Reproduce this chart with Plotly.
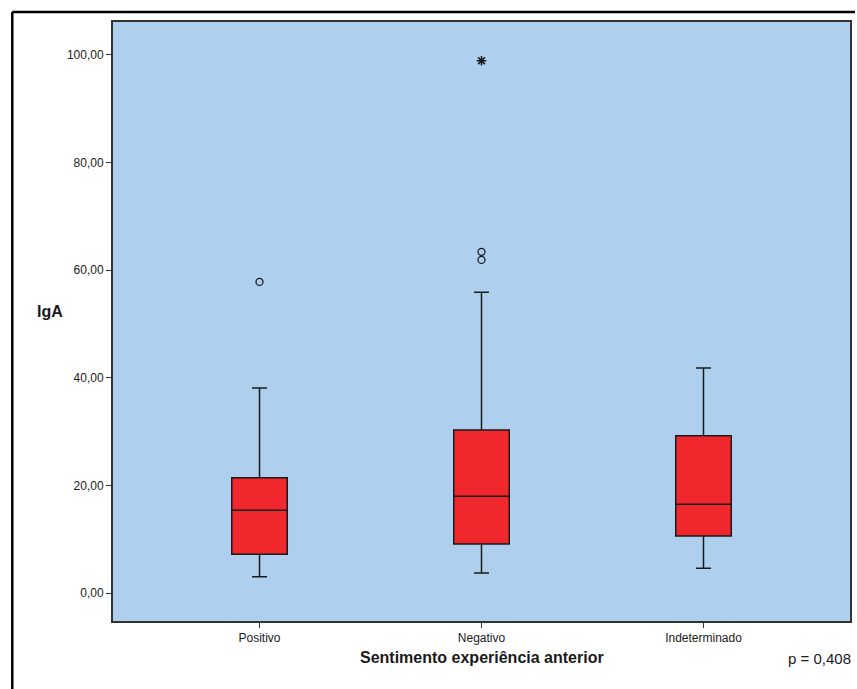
import plotly.graph_objects as go

categories = ["Positivo", "Negativo", "Indeterminado"]
q1 = [7.2, 9.1, 10.6]
median = [15.4, 18.0, 16.5]
q3 = [21.4, 30.3, 29.2]
lower_whisker = [3.0, 3.7, 4.6]
upper_whisker = [38.1, 55.9, 41.8]

outlier_cats = ["Positivo", "Negativo", "Negativo"]
outlier_vals = [57.8, 63.4, 61.9]
extreme_cats = ["Negativo"]
extreme_vals = [98.9]

y_tickvals = [0, 20, 40, 60, 80, 100]
y_ticktext = ["0,00", "20,00", "40,00", "60,00", "80,00", "100,00"]

W, H = 857, 689
L, R, T, B = 113, 852, 22, 621

fig = go.Figure()
fig.add_trace(go.Box(
    x=categories, q1=q1, median=median, q3=q3,
    lowerfence=lower_whisker, upperfence=upper_whisker,
    fillcolor="#F0282D", line=dict(color="#1a1a1a", width=1.5),
    width=0.25, whiskerwidth=0.27, boxpoints=False, showlegend=False,
))
fig.add_trace(go.Scatter(
    x=outlier_cats, y=outlier_vals, mode="markers",
    marker=dict(symbol="circle-open", size=7, color="#1a1a1a", line=dict(width=1.3)),
    showlegend=False,
))
fig.add_trace(go.Scatter(
    x=extreme_cats, y=extreme_vals, mode="markers",
    marker=dict(symbol="asterisk-open", size=8, color="#1a1a1a", line=dict(width=1.5, color="#1a1a1a")),
    showlegend=False,
))

def px(x):
    return (x - L) / (R - L)

def py(y):
    return (B - y) / (B - T)

font_name = "Liberation Sans Narrow, Liberation Sans, Arial, sans-serif"

fig.update_layout(
    width=W, height=H,
    margin=dict(l=L, r=W - R, t=T, b=H - B),
    paper_bgcolor="white",
    plot_bgcolor="#AED0EE",
    showlegend=False,
    font=dict(family=font_name, color="#1a1a1a"),
    xaxis=dict(
        type="category", categoryorder="array", categoryarray=categories,
        range=[-0.66, 2.66], showgrid=False, zeroline=False,
        showline=True, linecolor="#333333", linewidth=2, mirror=True,
        ticks="outside", ticklen=5, tickcolor="#333333",
        tickfont=dict(size=12, family=font_name),
    ),
    yaxis=dict(
        range=[-5.2, 106.1], showgrid=False, zeroline=False,
        showline=True, linecolor="#333333", linewidth=2, mirror=True,
        ticks="outside", ticklen=5, tickcolor="#333333",
        tickvals=y_tickvals, ticktext=y_ticktext,
        tickfont=dict(size=12, family=font_name),
    ),
    shapes=[
        dict(type="line", xref="paper", yref="paper",
             x0=px(12), x1=px(857), y0=py(12), y1=py(12),
             line=dict(color="black", width=2.5)),
        dict(type="line", xref="paper", yref="paper",
             x0=px(12), x1=px(12), y0=py(12), y1=py(700),
             line=dict(color="black", width=2.5)),
    ],
    annotations=[
        dict(text="<b>IgA</b>", xref="paper", yref="paper",
             x=px(35), y=py(312), showarrow=False,
             font=dict(size=16, family="Liberation Sans, Arial, sans-serif")),
        dict(text="<b>Sentimento experiência anterior</b>", xref="paper", yref="paper",
             x=px(483), y=py(668), showarrow=False,
             font=dict(size=16, family="Liberation Sans Narrow, Liberation Sans, Arial, sans-serif")),
        dict(text="p = 0,408", xref="paper", yref="paper",
             x=px(855), y=py(669), xanchor="right", showarrow=False,
             font=dict(size=15, family="Liberation Sans, Arial, sans-serif")),
    ],
)

fig.write_html("out.html")
